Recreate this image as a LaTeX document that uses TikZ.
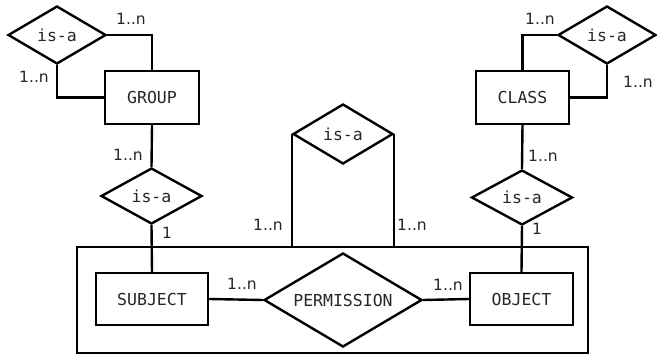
\documentclass[tikz,border=0pt]{standalone}
\usepackage{fontspec}
\setmainfont{DejaVu Sans}
\newfontfamily\monof{DejaVu Sans Mono}
\usetikzlibrary{shapes.geometric}
\begin{document}
\begin{tikzpicture}[x=1pt,y=-1pt,line width=2.4pt,
  ent/.style={draw,rectangle,line width=2.4pt,inner sep=0pt,font=\monof\fontsize{16.5}{18}\selectfont,text=black!85},
  rel/.style={draw,diamond,line width=2.4pt,inner sep=0pt,font=\monof\fontsize{16.5}{18}\selectfont,text=black!85},
  card/.style={inner sep=0pt,font=\fontsize{15.5}{17}\selectfont,text=black!85},
  agg/.style={draw,rectangle,line width=2.4pt,inner sep=0pt}]
\useasboundingbox (0,0) rectangle (657,357);
% aggregation box
\node[agg,minimum width=511pt,minimum height=106pt] (aggr) at (332.5,300) {};
% entities
\node[ent,minimum width=94pt,minimum height=53pt] (group) at (152,97.5) {GROUP};
\node[ent,minimum width=93pt,minimum height=53pt] (class) at (522.5,97.5) {CLASS};
\node[ent,minimum width=112pt,minimum height=52pt] (subject) at (152,299) {SUBJECT};
\node[ent,minimum width=103pt,minimum height=52pt] (object) at (521.5,299) {OBJECT};
% relationships
\node[rel,minimum width=98pt,minimum height=58pt] (ga) at (57,35) {is-a};
\node[rel,minimum width=101pt,minimum height=56pt] (gb) at (151.5,196) {is-a};
\node[rel,minimum width=98pt,minimum height=58pt] (ca) at (607,35) {is-a};
\node[rel,minimum width=101pt,minimum height=55pt] (cb) at (522,197.5) {is-a};
\node[rel,minimum width=100pt,minimum height=60pt] (mid) at (343,134) {is-a};
\node[rel,aspect=1.68,minimum width=158pt,minimum height=94pt] (perm) at (343,300) {PERMISSION};
% connectors
\draw (ga.east) -| (group.north);
\draw (ga.south) |- (group.west);
\draw (ca.west) -| (class.north);
\draw (ca.south) |- (class.east);
\draw (group.south) -- (gb.north);
\draw (gb.south) -- (subject.north);
\draw (class.south) -- (cb.north);
\draw (cb.south) -- (object.north);
\draw (mid.west) -- (mid.west |- aggr.north);
\draw (mid.east) -- (mid.east |- aggr.north);
\draw (subject.east) -- (perm.west);
\draw (perm.east) -- (object.west);
% cardinalities
\node[card] (l1) at (131,19) {1..n};
\node[card] (l2) at (34,77) {1..n};
\node[card] (l3) at (128,155) {1..n};
\node[card] (l4) at (167,233) {1};
\node[card] (l5) at (268,225) {1..n};
\node[card] (l6) at (412,225) {1..n};
\node[card] (l7) at (242,284) {1..n};
\node[card] (l8) at (448,285) {1..n};
\node[card] (l9) at (537,229) {1};
\node[card] (l10) at (543,156) {1..n};
\node[card] (l11) at (540,19) {1..n};
\node[card] (l12) at (638,82) {1..n};
\end{tikzpicture}
\end{document}
